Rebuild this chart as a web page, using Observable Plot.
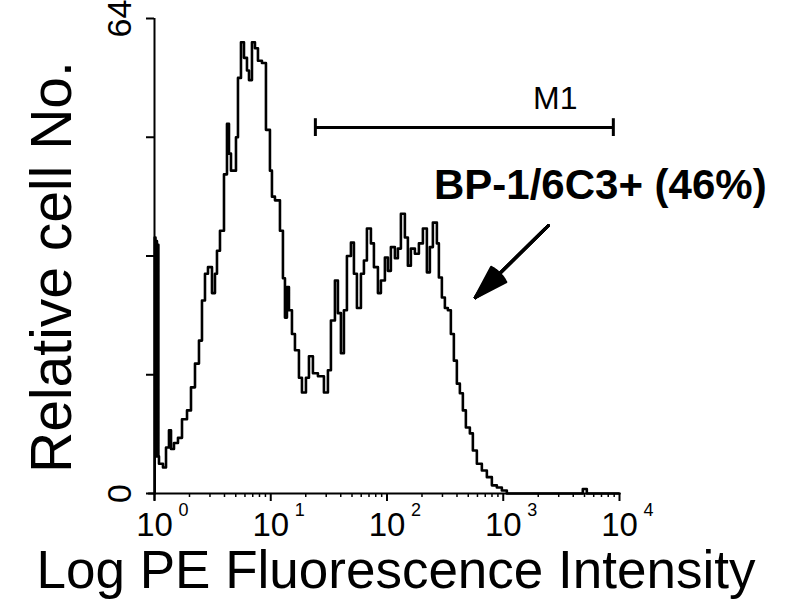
<!DOCTYPE html>
<html><head><meta charset="utf-8">
<script src="https://cdn.jsdelivr.net/npm/d3@7"></script>
<script src="https://cdn.jsdelivr.net/npm/@observablehq/plot@0.6"></script>
<style>body{margin:0;background:#fff}</style>
</head><body><div id="chart"></div>
<script>
// Fluorescence channel (bin start, PE intensity) and relative cell counts
const intensity = [
  1.00, 1.004, 1.02, 1.035, 1.05, 1.065, 1.08, 1.093, 1.183, 1.256,
  1.332, 1.387, 1.471, 1.592, 1.724, 1.904, 2.060, 2.230, 2.413, 2.561,
  2.718, 2.884, 3.122, 3.313, 3.447, 3.658, 3.960, 4.202, 4.372, 4.548,
  5.022, 5.224, 5.544, 5.884, 6.244, 6.497, 6.893, 7.314, 7.762, 8.401,
  9.093, 9.842, 10.24, 10.87, 12.00, 12.73, 13.25, 13.78, 14.34, 15.22,
  16.15, 17.48, 18.55, 20.08, 21.31, 23.06, 25.46, 28.67, 31.03, 32.93,
  35.65, 37.83, 40.14, 42.60, 45.21, 48.94, 51.94, 55.11, 59.66, 63.31,
  67.18, 72.72, 77.17, 83.53, 88.64, 95.92, 101.8, 108.0, 116.9, 124.1,
  131.7, 142.5, 151.2, 160.5, 173.7, 188.1, 203.6, 220.3, 233.8, 248.1,
  268.6, 279.4, 296.5, 314.7, 333.9, 354.3, 376.0, 399.0, 423.5, 449.4,
  476.9, 516.2, 547.8, 592.9, 654.6, 722.8, 798.0, 881.0, 972.7, 1074,
  4835, 5234, 10000
];
const counts = [
  0, 34.5, 5, 34, 5, 33.5, 5, 4.0, 3.5, 6.2,
  8.5, 6.0, 6.8, 7.5, 10, 11.2, 14.3, 17.5, 20.6, 26,
  29.6, 30.5, 27, 29.6, 32.7, 35.4, 43, 49.8, 45.8, 43.5,
  48, 56, 60.8, 58.7, 57, 55.7, 60.8, 60, 58.3, 58,
  49, 43.5, 40, 39.5, 35.4, 29, 23.7, 27.8, 24.7, 21.5,
  19.3, 15.6, 13.6, 15.6, 18.5, 16.2, 15.8, 13.6, 16.6, 23.3,
  28.7, 24.3, 18.9, 24.7, 32, 33.8, 29.6, 25, 29.6, 31.4,
  35.7, 33.7, 30.5, 27, 28.7, 31.8, 30, 33.2, 31.7, 33,
  37.7, 34.5, 30.7, 33, 32.3, 33.7, 35.7, 29.8, 33.2, 36.5,
  33.7, 29.1, 26.4, 25, 24.7, 21.5, 17.9, 14.8, 13.5, 11.2,
  8.9, 8.1, 5.8, 4.0, 3.1, 2.2, 1.1, 0.8, 0.4, 0,
  0.6, 0, 0
];

const xTickValues = [1, 10, 100, 1000, 10000];
const xTickBase = "10";
const xTickExponents = ["0", "1", "2", "3", "4"];
const xMinorMultipliers = [2, 3, 4, 5, 6, 7, 8, 9];
const yTickValues = [0, 16, 32, 48, 64];
const yTickLabels = [0, 64];

const xTitle = "Log PE Fluorescence Intensity";
const yTitle = "Relative cell No.";

const gateName = "M1";
const gateRange = [24.2, 8850];
const gateLevel = 49.3;
const gateLabelAt = [2800, 53.2];

const annotationText = "BP-1/6C3+ (46%)";
const annotationAt = [6840, 41.5];
const arrowFrom = [2443, 36.1];
const arrowTo = [575, 26.4];
const arrowHeadAngles = [35, 29, 23, 17, 11, 5];

const data = intensity.map((x, i) => ({x, y: counts[i]}));
const xMinor = xTickValues.slice(0, -1).flatMap(d => xMinorMultipliers.map(m => d * m));
const arrowData = [{x1: arrowFrom[0], y1: arrowFrom[1], x2: arrowTo[0], y2: arrowTo[1]}];
const font = "'Liberation Sans', Arial, Helvetica, sans-serif";

const plot = Plot.plot({
  width: 800,
  height: 600,
  marginLeft: 154,
  marginRight: 181,
  marginTop: 18,
  marginBottom: 107,
  style: {fontFamily: font, background: "#fff", color: "#000", overflow: "visible"},
  x: {type: "log", domain: [1, 10000]},
  y: {domain: [0, 64]},
  marks: [
    Plot.axisY({ticks: yTickValues, tickSize: 8, strokeWidth: 2, tickFormat: () => null, label: null}),
    Plot.axisX({ticks: xMinor, tickSize: 4, strokeWidth: 1.5, tickFormat: () => null, label: null}),
    Plot.axisX({ticks: xTickValues, tickSize: 8, strokeWidth: 2, tickPadding: 11, fontSize: 33, tickFormat: () => xTickBase, label: null}),
    Plot.text(xTickValues, {x: d => d, frameAnchor: "bottom", text: (d, i) => xTickExponents[i], dx: 29, dy: 17, fontSize: 18, lineAnchor: "middle"}),
    Plot.text(yTickLabels, {y: d => d, frameAnchor: "left", text: d => String(d), rotate: -90, dx: -24, fontSize: 34, textAnchor: "middle", lineAnchor: "bottom"}),
    Plot.ruleY([0], {x1: 0.89, x2: 10000, strokeWidth: 2, stroke: "#000"}),
    Plot.ruleX([1], {y1: -1, y2: 64, strokeWidth: 2, stroke: "#000"}),
    Plot.line(data, {x: "x", y: "y", curve: "step-after", stroke: "#000", strokeWidth: 2.6}),
    Plot.ruleY([gateLevel], {x1: gateRange[0], x2: gateRange[1], stroke: "#000", strokeWidth: 3}),
    Plot.ruleX(gateRange, {y1: gateLevel - 1.2, y2: gateLevel + 1.2, stroke: "#000", strokeWidth: 3}),
    Plot.text([gateName], {x: gateLabelAt[0], y: gateLabelAt[1], fontSize: 32, lineAnchor: "middle"}),
    Plot.text([annotationText], {x: annotationAt[0], y: annotationAt[1], fontSize: 42, fontWeight: "bold", lineAnchor: "middle"}),
    ...arrowHeadAngles.map(a => Plot.arrow(arrowData, {x1: "x1", y1: "y1", x2: "x2", y2: "y2", stroke: "#000", strokeWidth: 3, headAngle: a, headLength: 18})),
    Plot.text([yTitle], {frameAnchor: "left", rotate: -90, dx: -84, dy: 11, fontSize: 57, textAnchor: "middle", lineAnchor: "bottom"}),
    Plot.text([xTitle], {frameAnchor: "bottom", dx: 9, dy: 94, fontSize: 53, textAnchor: "middle", lineAnchor: "bottom"})
  ]
});
document.getElementById("chart").appendChild(plot);
</script>
</body></html>
